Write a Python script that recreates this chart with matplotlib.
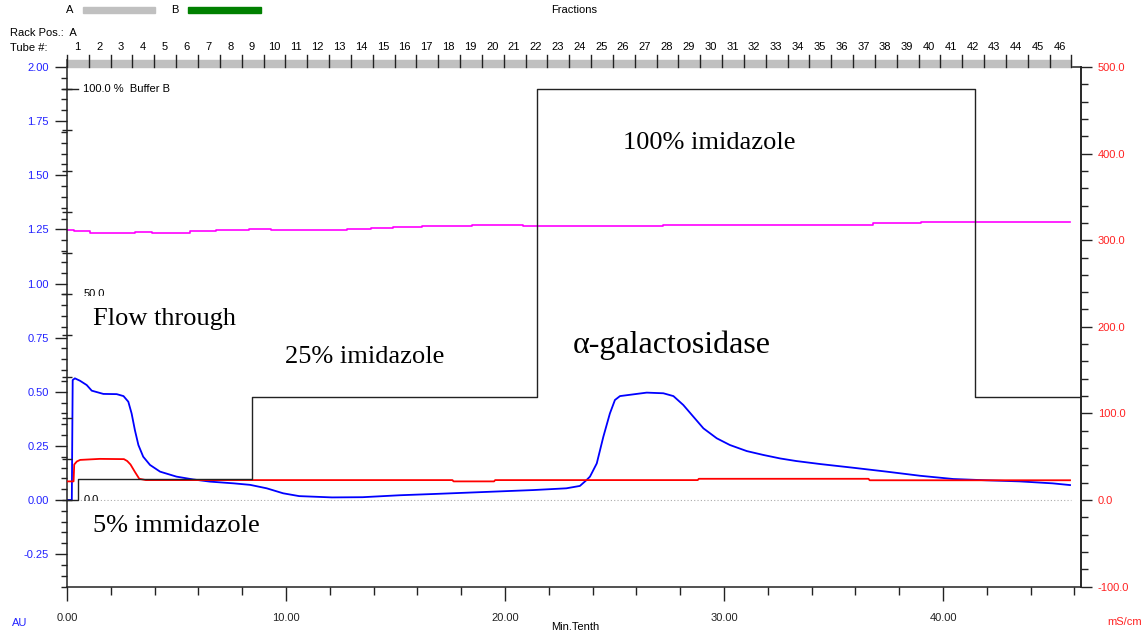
"""
Chromatogram (Ni-NTA run, alpha-galactosidase) redrawn with matplotlib.
UV (AU) on the left, conductivity (mS/cm) on the right, %B as step line.
"""

import matplotlib
matplotlib.use("Agg")
import matplotlib.pyplot as plt
from matplotlib.patches import Rectangle
from matplotlib.lines import Line2D

SANS = "Liberation Sans"
SERIF = "Liberation Serif"
BLUE_TXT = "#2222ff"
RED_TXT = "#ff2222"

# --- UV 280 nm trace (AU) ---
uv_t = [0.0, 0.22, 0.26, 0.36, 0.59, 0.9, 1.13, 1.66, 2.27, 2.58, 2.8, 2.95,
        3.1, 3.26, 3.48, 3.79, 4.25, 5.0, 5.76, 6.52, 7.6, 8.36, 9.12, 9.87,
        10.6, 12.1, 13.5, 15.2, 16.8, 18.3, 19.8, 21.3, 22.8, 23.42, 23.7,
        23.88, 24.19, 24.49, 24.79, 25.02, 25.25, 25.86, 26.47, 27.23, 27.69,
        28.14, 28.6, 29.06, 29.67, 30.27, 31.04, 31.8, 32.56, 33.3, 34.4,
        35.9, 37.43, 38.95, 40.47, 42.0, 43.5, 45.0, 45.8]
uv_au = [0.0, 0.0, 0.554, 0.562, 0.551, 0.531, 0.505, 0.49, 0.489, 0.48,
         0.454, 0.40, 0.323, 0.254, 0.20, 0.162, 0.131, 0.108, 0.095, 0.085,
         0.077, 0.070, 0.054, 0.031, 0.018, 0.012, 0.013, 0.022, 0.028, 0.034,
         0.040, 0.046, 0.054, 0.065, 0.090, 0.108, 0.169, 0.292, 0.40, 0.462,
         0.480, 0.488, 0.496, 0.493, 0.480, 0.439, 0.385, 0.331, 0.285, 0.254,
         0.226, 0.208, 0.192, 0.180, 0.166, 0.149, 0.131, 0.112, 0.097, 0.091,
         0.086, 0.077, 0.069]

# --- conductivity (mS/cm, right axis) ---
cond_t = [0.0, 0.3, 0.33, 0.45, 0.6, 1.5, 2.6, 2.75, 2.9, 3.1, 3.3, 3.6,
          17.6, 17.65, 19.5, 19.55, 28.8, 28.85, 36.6, 36.65, 45.8]
cond_ms = [21.5, 21.5, 41.0, 44.5, 46.3, 47.5, 47.2, 45.0, 41.0, 32.5, 24.5,
           23.0, 23.0, 21.5, 21.5, 23.0, 23.0, 24.5, 24.5, 22.8, 22.8]

# --- magenta trace (left scale), stepwise ---
mag_t = [0, 0.3, 1.05, 3.1, 3.9, 5.6, 6.8, 8.3, 9.3, 12.8, 13.9, 14.9, 16.2,
         18.5, 20.8, 27.2, 36.8, 39.0, 45.8]
mag_v = [1.247, 1.241, 1.235, 1.239, 1.235, 1.241, 1.246, 1.252, 1.246,
         1.252, 1.256, 1.262, 1.267, 1.272, 1.267, 1.272, 1.278, 1.283, 1.283]

# --- gradient, % buffer B ---
grad_t = [0.0, 0.49, 8.43, 21.45, 41.45, 46.25]
grad_b = [0, 5, 25, 100, 25, 25]

tube_labels = list(range(1, 47))
frac_size = 0.997  # min.tenth per fraction

fig = plt.figure(figsize=(11.46, 6.35), dpi=100)
ax = fig.add_axes([0.05846, 0.0762, 0.8848, 0.8183])
ax.set_xlim(0, 46.3)
ax.set_ylim(-0.4, 2.0)

ax.axhline(0, color="#aaaaaa", lw=0.8, ls=(0, (1, 2)), xmax=0.99)
ax.plot(mag_t, mag_v, color="#ff00ff", lw=1.2, drawstyle="steps-post")
ax.plot(uv_t, uv_au, color="#0000ff", lw=1.3)

ax.set_yticks([-0.25, 0, 0.25, 0.5, 0.75, 1.0, 1.25, 1.5, 1.75, 2.0])
ax.set_yticks([v / 100 for v in range(-40, 201, 5)], minor=True)
ax.set_xticks([0, 10, 20, 30, 40])
ax.set_xticks(range(0, 47, 2), minor=True)
ax.yaxis.set_major_formatter(plt.FormatStrFormatter("%.2f"))
ax.xaxis.set_major_formatter(plt.FormatStrFormatter("%.2f"))
ax.tick_params(axis="y", which="major", length=9, width=1, pad=4,
               labelsize=8, colors="#222222")
ax.tick_params(axis="y", which="minor", length=4, width=1, colors="#222222")
ax.tick_params(axis="y", labelcolor=BLUE_TXT)
ax.tick_params(axis="x", which="major", length=10, width=1, pad=9,
               labelsize=8, colors="#222222")
ax.tick_params(axis="x", which="minor", length=6, width=1, colors="#222222")
for lab in ax.get_xticklabels() + ax.get_yticklabels():
    lab.set_family(SANS)
for s in ax.spines.values():
    s.set_color("#222222")
    s.set_linewidth(1.1)

# conductivity axis
ax2 = ax.twinx()
ax2.set_ylim(-100, 500)
ax2.plot(cond_t, cond_ms, color="#ff0000", lw=1.3)
ax2.set_yticks(range(-100, 501, 100))
ax2.set_yticks(range(-100, 501, 20), minor=True)
ax2.yaxis.set_major_formatter(plt.FormatStrFormatter("%.1f"))
ax2.tick_params(axis="y", which="major", length=8, width=1, pad=4,
                labelsize=8, colors="#222222", labelcolor=RED_TXT)
ax2.tick_params(axis="y", which="minor", length=5, width=1, colors="#222222")
for lab in ax2.get_yticklabels():
    lab.set_family(SANS)
for s in ax2.spines.values():
    s.set_visible(False)
ax2.spines["right"].set_visible(True)
ax2.spines["right"].set_color("#222222")
ax2.spines["right"].set_linewidth(1.1)

# %B axis, ticks crossing the left spine
ax3 = ax.twinx()
ax3.set_ylim(-0.4 / 1.9 * 100, 2.0 / 1.9 * 100)
ax3.plot(grad_t, grad_b, color="#222222", lw=1.0, drawstyle="steps-post")
for s in ax3.spines.values():
    s.set_visible(False)
ax3.yaxis.set_ticks_position("left")
ax3.set_yticks(range(0, 101, 10))
ax3.tick_params(axis="y", direction="inout", length=7, width=1,
                colors="#222222", labelleft=False, labelright=False)
ax3.plot([0, 0.5], [100, 100], color="#222222", lw=1, clip_on=False)
ax3.text(0.75, 100, "100.0 %  Buffer B", fontsize=8, family=SANS, va="center")
ax3.text(0.75, 50, "50.0", fontsize=8, family=SANS, va="center")
ax3.text(0.75, 0, "0.0", fontsize=8, family=SANS, va="center")

# annotations (serif text, the two on the left sit on white boxes)
notes = [
    (1.19, 0.835, "Flow through", 19, 9),
    (9.95, 0.66, "25% imidazole", 19, None),
    (25.39, 1.649, "100% imidazole", 19, None),
    (23.1, 0.716, "\u03b1-galactosidase", 23, None),
    (1.19, -0.12, "5% immidazole", 19, 10),
]
for x, y, txt, size, pad in notes:
    kw = {}
    if pad:
        kw["bbox"] = dict(facecolor="white", edgecolor="none", pad=pad)
    ax3.text(x, y, txt, transform=ax.transData, fontsize=size, family=SERIF,
             ha="left", va="center", zorder=10, **kw)

# fraction strip above the plot
top = 7 / 519.6
xform = ax.get_xaxis_transform()
ax.add_patch(Rectangle((0, 1), tube_labels[-1] * frac_size, top,
                       transform=xform, color="#c0c0c0",
                       clip_on=False, zorder=3))
ax.add_line(Line2D([0, 0], [1, 1 + top], transform=xform,
                   color="#222222", lw=1.1, clip_on=False))
for i in [0] + tube_labels:
    ax.add_line(Line2D([i * frac_size] * 2, [1, 1 + 12 / 519.6],
                       transform=xform, color="#222222", lw=1, clip_on=False,
                       zorder=4))
for n in tube_labels:
    ax.text((n - 1) * frac_size + 0.47, 1 + 20 / 519.6, str(n),
            transform=xform, fontsize=8, family=SANS, ha="center",
            va="center")

# header and axis captions (figure pixel positions)
W, H = 1146, 635


def ftext(x, y, s, **kw):
    fig.text(x / W, 1 - y / H, s, family=SANS, fontsize=8, va="center", **kw)


ftext(70, 10, "A", ha="center")
ftext(175, 10, "B", ha="center")
fig.add_artist(Rectangle((83 / W, 1 - 13 / H), 72 / W, 6 / H,
                         color="#c0c0c0", transform=fig.transFigure))
fig.add_artist(Rectangle((188 / W, 1 - 13 / H), 73 / W, 6 / H,
                         color="#008000", transform=fig.transFigure))
ftext(574, 10, "Fractions", ha="center")
ftext(10, 33, "Rack Pos.:  A", ha="left")
ftext(10, 48, "Tube #:", ha="left")
ftext(575, 627, "Min.Tenth", ha="center")
ftext(20, 623, "AU", ha="center", color=BLUE_TXT)
ftext(1125, 622, "mS/cm", ha="center", color=RED_TXT)

fig.savefig("out.png", dpi=100)
